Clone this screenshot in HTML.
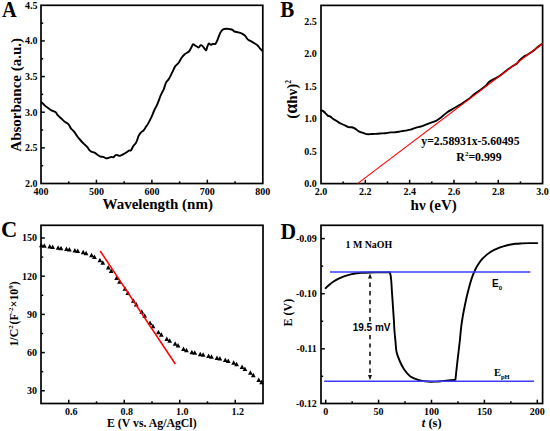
<!DOCTYPE html>
<html><head><meta charset="utf-8"><style>
html,body{margin:0;padding:0;background:#fff;}
body{width:550px;height:431px;overflow:hidden;font-family:"Liberation Serif",serif;}
svg{display:block;}
</style></head><body>
<svg width="550" height="431" viewBox="0 0 550 431">
<rect width="550" height="431" fill="#fff"/>
<rect x="41.00" y="5.30" width="221.80" height="178.20" fill="none" stroke="#000" stroke-width="1.7"/>
<text x="41.00" y="195.20" font-family="'Liberation Serif', serif" font-size="10" font-weight="bold" font-style="normal" text-anchor="middle">400</text>
<line x1="68.72" y1="183.50" x2="68.72" y2="181.30" stroke="#000" stroke-width="1.5"/>
<line x1="96.45" y1="183.50" x2="96.45" y2="179.70" stroke="#000" stroke-width="1.5"/>
<text x="96.45" y="195.20" font-family="'Liberation Serif', serif" font-size="10" font-weight="bold" font-style="normal" text-anchor="middle">500</text>
<line x1="124.17" y1="183.50" x2="124.17" y2="181.30" stroke="#000" stroke-width="1.5"/>
<line x1="151.90" y1="183.50" x2="151.90" y2="179.70" stroke="#000" stroke-width="1.5"/>
<text x="151.90" y="195.20" font-family="'Liberation Serif', serif" font-size="10" font-weight="bold" font-style="normal" text-anchor="middle">600</text>
<line x1="179.62" y1="183.50" x2="179.62" y2="181.30" stroke="#000" stroke-width="1.5"/>
<line x1="207.35" y1="183.50" x2="207.35" y2="179.70" stroke="#000" stroke-width="1.5"/>
<text x="207.35" y="195.20" font-family="'Liberation Serif', serif" font-size="10" font-weight="bold" font-style="normal" text-anchor="middle">700</text>
<line x1="235.07" y1="183.50" x2="235.07" y2="181.30" stroke="#000" stroke-width="1.5"/>
<text x="262.80" y="195.20" font-family="'Liberation Serif', serif" font-size="10" font-weight="bold" font-style="normal" text-anchor="middle">800</text>
<text x="37.60" y="186.90" font-family="'Liberation Serif', serif" font-size="10" font-weight="bold" font-style="normal" text-anchor="end">2.0</text>
<line x1="41.00" y1="165.68" x2="43.20" y2="165.68" stroke="#000" stroke-width="1.5"/>
<line x1="41.00" y1="147.86" x2="44.80" y2="147.86" stroke="#000" stroke-width="1.5"/>
<text x="37.60" y="151.26" font-family="'Liberation Serif', serif" font-size="10" font-weight="bold" font-style="normal" text-anchor="end">2.5</text>
<line x1="41.00" y1="130.04" x2="43.20" y2="130.04" stroke="#000" stroke-width="1.5"/>
<line x1="41.00" y1="112.22" x2="44.80" y2="112.22" stroke="#000" stroke-width="1.5"/>
<text x="37.60" y="115.62" font-family="'Liberation Serif', serif" font-size="10" font-weight="bold" font-style="normal" text-anchor="end">3.0</text>
<line x1="41.00" y1="94.40" x2="43.20" y2="94.40" stroke="#000" stroke-width="1.5"/>
<line x1="41.00" y1="76.58" x2="44.80" y2="76.58" stroke="#000" stroke-width="1.5"/>
<text x="37.60" y="79.98" font-family="'Liberation Serif', serif" font-size="10" font-weight="bold" font-style="normal" text-anchor="end">3.5</text>
<line x1="41.00" y1="58.76" x2="43.20" y2="58.76" stroke="#000" stroke-width="1.5"/>
<line x1="41.00" y1="40.94" x2="44.80" y2="40.94" stroke="#000" stroke-width="1.5"/>
<text x="37.60" y="44.34" font-family="'Liberation Serif', serif" font-size="10" font-weight="bold" font-style="normal" text-anchor="end">4.0</text>
<line x1="41.00" y1="23.12" x2="43.20" y2="23.12" stroke="#000" stroke-width="1.5"/>
<text x="37.60" y="8.70" font-family="'Liberation Serif', serif" font-size="10" font-weight="bold" font-style="normal" text-anchor="end">4.5</text>
<text transform="translate(2.0 17.1) scale(0.97 1.08)" font-family="'Liberation Serif', serif" font-size="21" font-weight="bold">A</text>
<text x="157.70" y="209.20" font-family="'Liberation Serif', serif" font-size="15" font-weight="bold" font-style="normal" text-anchor="middle">Wavelength (nm)</text>
<text x="20.60" y="94.80" font-family="'Liberation Serif', serif" font-size="15" font-weight="bold" font-style="normal" text-anchor="middle" transform="rotate(-90 20.6 94.8)">Absorbance (a.u.)</text>
<path d="M41.60,102.30C42.15,102.85 43.82,104.65 44.90,105.60C45.98,106.55 47.02,107.20 48.10,108.00C49.18,108.80 50.18,109.72 51.40,110.40C52.62,111.08 54.32,111.28 55.40,112.10C56.48,112.92 56.95,114.27 57.90,115.30C58.85,116.33 60.02,117.27 61.10,118.30C62.18,119.33 63.17,120.50 64.40,121.50C65.63,122.50 67.42,123.17 68.50,124.30C69.58,125.43 69.97,127.08 70.90,128.30C71.83,129.52 73.02,130.23 74.10,131.60C75.18,132.97 76.30,135.02 77.40,136.50C78.50,137.98 79.62,139.28 80.70,140.50C81.78,141.72 82.82,142.72 83.90,143.80C84.98,144.88 86.12,145.78 87.20,147.00C88.28,148.22 89.18,150.15 90.40,151.10C91.62,152.05 93.28,152.05 94.50,152.70C95.72,153.35 96.70,154.35 97.70,155.00C98.70,155.65 99.58,156.28 100.50,156.60C101.42,156.92 102.30,156.62 103.20,156.90C104.10,157.18 105.00,158.13 105.90,158.30C106.80,158.47 107.68,158.13 108.60,157.90C109.52,157.67 110.58,157.02 111.40,156.90C112.22,156.78 112.78,157.52 113.50,157.20C114.22,156.88 114.97,155.32 115.70,155.00C116.43,154.68 117.17,155.17 117.90,155.30C118.63,155.43 119.18,155.98 120.10,155.80C121.02,155.62 122.32,154.78 123.40,154.20C124.48,153.62 125.70,152.90 126.60,152.30C127.50,151.70 128.07,150.93 128.80,150.60C129.53,150.27 130.27,151.02 131.00,150.30C131.73,149.58 132.38,147.52 133.20,146.30C134.02,145.08 135.18,144.18 135.90,143.00C136.62,141.82 137.05,140.38 137.50,139.20C137.95,138.02 138.05,137.00 138.60,135.90C139.15,134.80 139.98,133.50 140.80,132.60C141.62,131.70 142.68,131.40 143.50,130.50C144.32,129.60 144.93,128.35 145.70,127.20C146.47,126.05 147.17,125.23 148.10,123.60C149.03,121.97 150.25,119.67 151.30,117.40C152.35,115.13 153.37,112.27 154.40,110.00C155.43,107.73 156.45,106.23 157.50,103.80C158.55,101.37 159.65,97.85 160.70,95.40C161.75,92.95 162.93,91.18 163.80,89.10C164.67,87.02 165.03,84.63 165.90,82.90C166.77,81.17 167.95,80.45 169.00,78.70C170.05,76.95 171.15,74.50 172.20,72.40C173.25,70.30 174.25,67.67 175.30,66.10C176.35,64.53 177.45,64.38 178.50,63.00C179.55,61.62 180.57,59.27 181.60,57.80C182.63,56.33 183.48,55.25 184.70,54.20C185.92,53.15 187.78,52.65 188.90,51.50C190.02,50.35 190.70,48.52 191.40,47.30C192.10,46.08 192.50,44.50 193.10,44.20C193.70,43.90 194.37,45.12 195.00,45.50C195.63,45.88 196.27,46.18 196.90,46.50C197.53,46.82 198.17,47.62 198.80,47.40C199.43,47.18 200.07,45.42 200.70,45.20C201.33,44.98 201.97,45.53 202.60,46.10C203.23,46.67 203.90,47.90 204.50,48.60C205.10,49.30 205.70,50.72 206.20,50.30C206.70,49.88 207.03,47.23 207.50,46.10C207.97,44.97 208.43,43.72 209.00,43.50C209.57,43.28 210.27,44.73 210.90,44.80C211.53,44.87 212.05,44.05 212.80,43.90C213.55,43.75 214.65,44.48 215.40,43.90C216.15,43.32 216.67,41.83 217.30,40.40C217.93,38.97 218.57,36.78 219.20,35.30C219.83,33.82 220.37,32.52 221.10,31.50C221.83,30.48 222.65,29.67 223.60,29.20C224.55,28.73 225.73,28.70 226.80,28.70C227.87,28.70 229.05,29.00 230.00,29.20C230.95,29.40 231.75,29.52 232.50,29.90C233.25,30.28 233.53,31.10 234.50,31.50C235.47,31.90 237.13,31.98 238.30,32.30C239.47,32.62 240.45,32.90 241.50,33.40C242.55,33.90 243.77,34.57 244.60,35.30C245.43,36.03 245.85,37.00 246.50,37.80C247.15,38.60 247.65,39.47 248.50,40.10C249.35,40.73 250.55,41.03 251.60,41.60C252.65,42.17 253.83,42.90 254.80,43.50C255.77,44.10 256.55,44.40 257.40,45.20C258.25,46.00 259.10,47.37 259.90,48.30C260.70,49.23 261.82,50.38 262.20,50.80" fill="none" stroke="#000" stroke-width="1.9" stroke-linejoin="round" stroke-linecap="round"/>
<rect x="321.00" y="5.40" width="221.60" height="178.20" fill="none" stroke="#000" stroke-width="1.7"/>
<text x="321.00" y="195.30" font-family="'Liberation Serif', serif" font-size="10" font-weight="bold" font-style="normal" text-anchor="middle">2.0</text>
<line x1="343.16" y1="183.60" x2="343.16" y2="181.40" stroke="#000" stroke-width="1.5"/>
<line x1="365.32" y1="183.60" x2="365.32" y2="179.80" stroke="#000" stroke-width="1.5"/>
<text x="365.32" y="195.30" font-family="'Liberation Serif', serif" font-size="10" font-weight="bold" font-style="normal" text-anchor="middle">2.2</text>
<line x1="387.48" y1="183.60" x2="387.48" y2="181.40" stroke="#000" stroke-width="1.5"/>
<line x1="409.64" y1="183.60" x2="409.64" y2="179.80" stroke="#000" stroke-width="1.5"/>
<text x="409.64" y="195.30" font-family="'Liberation Serif', serif" font-size="10" font-weight="bold" font-style="normal" text-anchor="middle">2.4</text>
<line x1="431.80" y1="183.60" x2="431.80" y2="181.40" stroke="#000" stroke-width="1.5"/>
<line x1="453.96" y1="183.60" x2="453.96" y2="179.80" stroke="#000" stroke-width="1.5"/>
<text x="453.96" y="195.30" font-family="'Liberation Serif', serif" font-size="10" font-weight="bold" font-style="normal" text-anchor="middle">2.6</text>
<line x1="476.12" y1="183.60" x2="476.12" y2="181.40" stroke="#000" stroke-width="1.5"/>
<line x1="498.28" y1="183.60" x2="498.28" y2="179.80" stroke="#000" stroke-width="1.5"/>
<text x="498.28" y="195.30" font-family="'Liberation Serif', serif" font-size="10" font-weight="bold" font-style="normal" text-anchor="middle">2.8</text>
<line x1="520.44" y1="183.60" x2="520.44" y2="181.40" stroke="#000" stroke-width="1.5"/>
<text x="542.60" y="195.30" font-family="'Liberation Serif', serif" font-size="10" font-weight="bold" font-style="normal" text-anchor="middle">3.0</text>
<text x="316.80" y="187.00" font-family="'Liberation Serif', serif" font-size="10" font-weight="bold" font-style="normal" text-anchor="end">0.0</text>
<text x="316.80" y="154.62" font-family="'Liberation Serif', serif" font-size="10" font-weight="bold" font-style="normal" text-anchor="end">0.5</text>
<text x="316.80" y="122.24" font-family="'Liberation Serif', serif" font-size="10" font-weight="bold" font-style="normal" text-anchor="end">1.0</text>
<text x="316.80" y="89.86" font-family="'Liberation Serif', serif" font-size="10" font-weight="bold" font-style="normal" text-anchor="end">1.5</text>
<text x="316.80" y="57.48" font-family="'Liberation Serif', serif" font-size="10" font-weight="bold" font-style="normal" text-anchor="end">2.0</text>
<text x="316.80" y="25.10" font-family="'Liberation Serif', serif" font-size="10" font-weight="bold" font-style="normal" text-anchor="end">2.5</text>
<text transform="translate(280.3 16.8) scale(1 1.065)" font-family="'Liberation Serif', serif" font-size="21" font-weight="bold">B</text>
<text x="433.70" y="209.50" font-family="'Liberation Serif', serif" font-size="15" font-weight="bold" font-style="normal" text-anchor="middle">hν (eV)</text>
<text transform="translate(297.2 99.4) rotate(-90)" font-family="'Liberation Serif', serif" font-size="15" font-weight="bold" text-anchor="middle">(<tspan font-size="18">α</tspan>hν)<tspan font-size="7.5" dy="-6.5">2</tspan></text>
<path d="M321.10,110.40C321.40,110.48 322.23,110.48 322.90,110.90C323.57,111.32 324.28,112.12 325.10,112.90C325.92,113.68 326.90,114.98 327.80,115.60C328.70,116.22 329.58,116.02 330.50,116.60C331.42,117.18 332.30,118.38 333.30,119.10C334.30,119.82 335.50,120.27 336.50,120.90C337.50,121.53 338.38,122.38 339.30,122.90C340.22,123.42 341.00,123.55 342.00,124.00C343.00,124.45 344.22,125.08 345.30,125.60C346.38,126.12 347.42,126.82 348.50,127.10C349.58,127.38 350.70,127.05 351.80,127.30C352.90,127.55 354.00,127.97 355.10,128.60C356.20,129.23 357.32,130.47 358.40,131.10C359.48,131.73 360.52,131.98 361.60,132.40C362.68,132.82 363.80,133.30 364.90,133.60C366.00,133.90 367.10,134.13 368.20,134.20C369.30,134.27 370.42,134.05 371.50,134.00C372.58,133.95 373.27,133.98 374.70,133.90C376.13,133.82 378.35,133.62 380.10,133.50C381.85,133.38 383.50,133.38 385.20,133.20C386.90,133.02 388.60,132.55 390.30,132.40C392.00,132.25 393.70,132.47 395.40,132.30C397.10,132.13 398.82,131.68 400.50,131.40C402.18,131.12 403.82,130.88 405.50,130.60C407.18,130.32 408.90,130.17 410.60,129.70C412.30,129.23 414.00,128.33 415.70,127.80C417.40,127.27 419.10,127.03 420.80,126.50C422.50,125.97 424.20,125.23 425.90,124.60C427.60,123.97 429.30,123.33 431.00,122.70C432.70,122.07 434.60,121.55 436.10,120.80C437.60,120.05 438.18,119.60 440.00,118.20C441.82,116.80 444.68,114.05 447.00,112.40C449.32,110.75 451.58,109.67 453.90,108.30C456.22,106.93 458.57,105.65 460.90,104.20C463.23,102.75 465.58,101.33 467.90,99.60C470.22,97.87 472.68,95.45 474.80,93.80C476.92,92.15 478.67,91.15 480.60,89.70C482.53,88.25 485.05,86.35 486.40,85.10C487.75,83.85 487.53,83.17 488.70,82.20C489.87,81.23 492.35,79.90 493.40,79.30C494.45,78.70 493.77,79.32 495.00,78.60C496.23,77.88 498.87,76.37 500.80,75.00C502.73,73.63 504.67,71.85 506.60,70.40C508.53,68.95 510.67,67.47 512.40,66.30C514.13,65.13 515.83,64.37 517.00,63.40C518.17,62.43 518.23,61.65 519.40,60.50C520.57,59.35 522.65,57.47 524.00,56.50C525.35,55.53 526.33,55.38 527.50,54.70C528.67,54.02 529.85,53.17 531.00,52.40C532.15,51.63 533.43,50.87 534.40,50.10C535.37,49.33 535.53,48.83 536.80,47.80C538.07,46.77 541.13,44.55 542.00,43.90" fill="none" stroke="#000" stroke-width="1.9" stroke-linejoin="round" stroke-linecap="round"/>
<line x1="357.49" y1="183.60" x2="542.60" y2="43.53" stroke="#f00" stroke-width="1.1"/>
<text x="470.40" y="145.40" font-family="'Liberation Serif', serif" font-size="11.7" font-weight="bold" font-style="normal" text-anchor="middle">y=2.58931x-5.60495</text>
<text x="479" y="161.2" font-family="'Liberation Serif', serif" font-size="11.8" font-weight="bold" text-anchor="middle">R<tspan font-size="7" dy="-5">2</tspan><tspan dy="5">=0.999</tspan></text>
<rect x="41.00" y="225.30" width="222.00" height="178.20" fill="none" stroke="#000" stroke-width="1.7"/>
<line x1="68.75" y1="403.50" x2="68.75" y2="399.70" stroke="#000" stroke-width="1.5"/>
<text x="71.15" y="415.30" font-family="'Liberation Serif', serif" font-size="10" font-weight="bold" font-style="normal" text-anchor="middle">0.6</text>
<line x1="96.50" y1="403.50" x2="96.50" y2="401.30" stroke="#000" stroke-width="1.5"/>
<line x1="124.25" y1="403.50" x2="124.25" y2="399.70" stroke="#000" stroke-width="1.5"/>
<text x="126.65" y="415.30" font-family="'Liberation Serif', serif" font-size="10" font-weight="bold" font-style="normal" text-anchor="middle">0.8</text>
<line x1="152.00" y1="403.50" x2="152.00" y2="401.30" stroke="#000" stroke-width="1.5"/>
<line x1="179.75" y1="403.50" x2="179.75" y2="399.70" stroke="#000" stroke-width="1.5"/>
<text x="182.15" y="415.30" font-family="'Liberation Serif', serif" font-size="10" font-weight="bold" font-style="normal" text-anchor="middle">1.0</text>
<line x1="207.50" y1="403.50" x2="207.50" y2="401.30" stroke="#000" stroke-width="1.5"/>
<line x1="235.25" y1="403.50" x2="235.25" y2="399.70" stroke="#000" stroke-width="1.5"/>
<text x="237.65" y="415.30" font-family="'Liberation Serif', serif" font-size="10" font-weight="bold" font-style="normal" text-anchor="middle">1.2</text>
<line x1="41.00" y1="390.77" x2="44.80" y2="390.77" stroke="#000" stroke-width="1.5"/>
<text x="37.00" y="394.17" font-family="'Liberation Serif', serif" font-size="10" font-weight="bold" font-style="normal" text-anchor="end">30</text>
<line x1="41.00" y1="371.68" x2="43.20" y2="371.68" stroke="#000" stroke-width="1.5"/>
<line x1="41.00" y1="352.58" x2="44.80" y2="352.58" stroke="#000" stroke-width="1.5"/>
<text x="37.00" y="355.98" font-family="'Liberation Serif', serif" font-size="10" font-weight="bold" font-style="normal" text-anchor="end">60</text>
<line x1="41.00" y1="333.49" x2="43.20" y2="333.49" stroke="#000" stroke-width="1.5"/>
<line x1="41.00" y1="314.39" x2="44.80" y2="314.39" stroke="#000" stroke-width="1.5"/>
<text x="37.00" y="317.79" font-family="'Liberation Serif', serif" font-size="10" font-weight="bold" font-style="normal" text-anchor="end">90</text>
<line x1="41.00" y1="295.30" x2="43.20" y2="295.30" stroke="#000" stroke-width="1.5"/>
<line x1="41.00" y1="276.20" x2="44.80" y2="276.20" stroke="#000" stroke-width="1.5"/>
<text x="37.00" y="279.60" font-family="'Liberation Serif', serif" font-size="10" font-weight="bold" font-style="normal" text-anchor="end">120</text>
<line x1="41.00" y1="257.11" x2="43.20" y2="257.11" stroke="#000" stroke-width="1.5"/>
<line x1="41.00" y1="238.01" x2="44.80" y2="238.01" stroke="#000" stroke-width="1.5"/>
<text x="37.00" y="241.41" font-family="'Liberation Serif', serif" font-size="10" font-weight="bold" font-style="normal" text-anchor="end">150</text>
<text transform="translate(0.9 236.6) scale(1 1.06)" font-family="'Liberation Serif', serif" font-size="22.5" font-weight="bold">C</text>
<text x="151.80" y="426.50" font-family="'Liberation Serif', serif" font-size="11.8" font-weight="bold" font-style="normal" text-anchor="middle">E (V vs. Ag/AgCl)</text>
<text transform="translate(17.5 313.9) rotate(-90)" font-family="'Liberation Serif', serif" font-size="11.9" font-weight="bold" text-anchor="middle">1/C<tspan font-size="7" dy="-4.7">2</tspan><tspan dy="4.7" dx="0.8">(F</tspan><tspan font-size="7" dy="-4.7">-2</tspan><tspan dy="4.7">×10</tspan><tspan font-size="7" dy="-4.7">9</tspan><tspan dy="4.7">)</tspan></text>
<path d="M41.40,242.86L43.80,247.36L39.00,247.36ZM44.30,243.25L46.70,247.75L41.90,247.75ZM49.76,244.02L52.16,248.52L47.36,248.52ZM52.66,244.49L55.06,248.99L50.26,248.99ZM58.12,245.34L60.52,249.84L55.72,249.84ZM61.02,245.69L63.42,250.19L58.62,250.19ZM66.48,246.39L68.88,250.89L64.08,250.89ZM69.38,246.93L71.78,251.43L66.98,251.43ZM74.84,247.96L77.24,252.46L72.44,252.46ZM77.74,248.50L80.14,253.00L75.34,253.00ZM83.20,249.70L85.60,254.20L80.80,254.20ZM86.10,250.67L88.50,255.17L83.70,255.17ZM91.56,252.64L93.96,257.14L89.16,257.14ZM94.46,254.38L96.86,258.88L92.06,258.88ZM99.92,257.84L102.32,262.34L97.52,262.34ZM102.82,260.16L105.22,264.66L100.42,264.66ZM108.28,265.07L110.68,269.57L105.88,269.57ZM111.18,268.62L113.58,273.12L108.78,273.12ZM116.64,275.41L119.04,279.91L114.24,279.91ZM119.54,279.15L121.94,283.65L117.14,283.65ZM125.00,286.32L127.40,290.82L122.60,290.82ZM127.90,290.45L130.30,294.95L125.50,294.95ZM133.36,298.18L135.76,302.68L130.96,302.68ZM136.26,302.06L138.66,306.56L133.86,306.56ZM141.72,309.36L144.12,313.86L139.32,313.86ZM144.62,313.19L147.02,317.69L142.22,317.69ZM150.08,320.39L152.48,324.89L147.68,324.89ZM152.98,323.84L155.38,328.34L150.58,328.34ZM158.44,329.82L160.84,334.32L156.04,334.32ZM161.34,332.20L163.74,336.70L158.94,336.70ZM166.80,336.54L169.20,341.04L164.40,341.04ZM169.70,338.29L172.10,342.79L167.30,342.79ZM175.16,341.25L177.56,345.75L172.76,345.75ZM178.06,343.01L180.46,347.51L175.66,347.51ZM183.52,346.49L185.92,350.99L181.12,350.99ZM186.42,347.68L188.82,352.18L184.02,352.18ZM191.88,349.66L194.28,354.16L189.48,354.16ZM194.78,350.36L197.18,354.86L192.38,354.86ZM200.24,351.65L202.64,356.15L197.84,356.15ZM203.14,352.29L205.54,356.79L200.74,356.79ZM208.60,353.50L211.00,358.00L206.20,358.00ZM211.50,354.16L213.90,358.66L209.10,358.66ZM216.96,355.39L219.36,359.89L214.56,359.89ZM219.86,356.12L222.26,360.62L217.46,360.62ZM225.32,357.50L227.72,362.00L222.92,362.00ZM228.22,358.45L230.62,362.95L225.82,362.95ZM233.68,360.34L236.08,364.84L231.28,364.84ZM236.58,361.79L238.98,366.29L234.18,366.29ZM242.04,364.53L244.44,369.03L239.64,369.03ZM244.94,366.52L247.34,371.02L242.54,371.02ZM250.40,370.34L252.80,374.84L248.00,374.84ZM253.30,372.81L255.70,377.31L250.90,377.31ZM258.76,377.40L261.16,381.90L256.36,381.90ZM261.66,379.67L264.06,384.17L259.26,384.17Z" fill="#000"/>
<line x1="100.20" y1="251.00" x2="175.30" y2="364.00" stroke="#f00" stroke-width="1.5"/>
<rect x="321.00" y="225.30" width="221.60" height="178.20" fill="none" stroke="#000" stroke-width="1.7"/>
<line x1="325.70" y1="403.50" x2="325.70" y2="399.70" stroke="#000" stroke-width="1.5"/>
<text x="325.70" y="414.90" font-family="'Liberation Serif', serif" font-size="10" font-weight="bold" font-style="normal" text-anchor="middle">0</text>
<line x1="352.15" y1="403.50" x2="352.15" y2="401.30" stroke="#000" stroke-width="1.5"/>
<line x1="378.60" y1="403.50" x2="378.60" y2="399.70" stroke="#000" stroke-width="1.5"/>
<text x="378.60" y="414.90" font-family="'Liberation Serif', serif" font-size="10" font-weight="bold" font-style="normal" text-anchor="middle">50</text>
<line x1="405.05" y1="403.50" x2="405.05" y2="401.30" stroke="#000" stroke-width="1.5"/>
<line x1="431.50" y1="403.50" x2="431.50" y2="399.70" stroke="#000" stroke-width="1.5"/>
<text x="431.50" y="414.90" font-family="'Liberation Serif', serif" font-size="10" font-weight="bold" font-style="normal" text-anchor="middle">100</text>
<line x1="457.95" y1="403.50" x2="457.95" y2="401.30" stroke="#000" stroke-width="1.5"/>
<line x1="484.40" y1="403.50" x2="484.40" y2="399.70" stroke="#000" stroke-width="1.5"/>
<text x="484.40" y="414.90" font-family="'Liberation Serif', serif" font-size="10" font-weight="bold" font-style="normal" text-anchor="middle">150</text>
<line x1="510.85" y1="403.50" x2="510.85" y2="401.30" stroke="#000" stroke-width="1.5"/>
<line x1="537.30" y1="403.50" x2="537.30" y2="399.70" stroke="#000" stroke-width="1.5"/>
<text x="537.30" y="414.90" font-family="'Liberation Serif', serif" font-size="10" font-weight="bold" font-style="normal" text-anchor="middle">200</text>
<text x="316.80" y="407.30" font-family="'Liberation Serif', serif" font-size="10" font-weight="bold" font-style="normal" text-anchor="end">-0.12</text>
<line x1="321.00" y1="376.35" x2="323.20" y2="376.35" stroke="#000" stroke-width="1.5"/>
<line x1="321.00" y1="348.80" x2="324.80" y2="348.80" stroke="#000" stroke-width="1.5"/>
<text x="316.80" y="352.20" font-family="'Liberation Serif', serif" font-size="10" font-weight="bold" font-style="normal" text-anchor="end">-0.11</text>
<line x1="321.00" y1="321.25" x2="323.20" y2="321.25" stroke="#000" stroke-width="1.5"/>
<line x1="321.00" y1="293.70" x2="324.80" y2="293.70" stroke="#000" stroke-width="1.5"/>
<text x="316.80" y="297.10" font-family="'Liberation Serif', serif" font-size="10" font-weight="bold" font-style="normal" text-anchor="end">-0.10</text>
<line x1="321.00" y1="266.15" x2="323.20" y2="266.15" stroke="#000" stroke-width="1.5"/>
<line x1="321.00" y1="238.60" x2="324.80" y2="238.60" stroke="#000" stroke-width="1.5"/>
<text x="316.80" y="242.00" font-family="'Liberation Serif', serif" font-size="10" font-weight="bold" font-style="normal" text-anchor="end">-0.09</text>
<text transform="translate(280.6 239.0) scale(1 1.07)" font-family="'Liberation Serif', serif" font-size="21.6" font-weight="bold">D</text>
<text x="431.7" y="427.4" font-family="'Liberation Serif', serif" font-size="12.5" font-weight="bold" text-anchor="middle"><tspan font-style="italic">t</tspan> (s)</text>
<text x="292.40" y="312.70" font-family="'Liberation Serif', serif" font-size="12" font-weight="bold" font-style="normal" text-anchor="middle" transform="rotate(-90 292.4 312.7)">E (V)</text>
<path d="M325.60,288.20C326.18,287.65 327.77,286.02 329.10,284.90C330.43,283.78 332.08,282.52 333.60,281.50C335.12,280.48 336.68,279.58 338.20,278.80C339.72,278.02 341.18,277.38 342.70,276.80C344.22,276.22 345.78,275.75 347.30,275.30C348.82,274.85 350.28,274.43 351.80,274.10C353.32,273.77 354.88,273.52 356.40,273.30C357.92,273.08 358.63,272.93 360.90,272.80C363.17,272.67 366.82,272.57 370.00,272.50C373.18,272.43 376.70,272.43 380.00,272.40C383.30,272.37 388.17,272.32 389.80,272.30C389.95,272.90 390.43,274.13 390.70,275.90C390.97,277.67 391.18,280.08 391.40,282.90C391.62,285.72 391.58,286.52 392.00,292.80C392.42,299.08 393.50,314.40 393.90,320.60C394.30,326.80 394.13,326.50 394.40,330.00C394.67,333.50 395.15,337.97 395.50,341.60C395.85,345.23 395.83,348.65 396.50,351.80C397.17,354.95 398.25,357.60 399.50,360.50C400.75,363.40 402.18,366.53 404.00,369.20C405.82,371.87 407.88,374.67 410.40,376.50C412.92,378.33 416.67,379.40 419.10,380.20C421.53,381.00 423.07,381.03 425.00,381.30C426.93,381.57 428.87,381.75 430.70,381.80C432.53,381.85 434.30,381.70 436.00,381.60C437.70,381.50 438.87,381.40 440.90,381.20C442.93,381.00 445.78,380.62 448.20,380.40C450.62,380.18 454.20,379.98 455.40,379.90C455.72,377.00 456.70,367.82 457.30,362.50C457.90,357.18 458.57,351.75 459.00,348.00C459.43,344.25 459.53,343.52 459.90,340.00C460.27,336.48 460.70,330.98 461.20,326.90C461.70,322.82 462.30,319.03 462.90,315.50C463.50,311.97 464.13,308.95 464.80,305.70C465.47,302.45 466.13,299.25 466.90,296.00C467.67,292.75 468.58,289.18 469.40,286.20C470.22,283.22 470.85,280.80 471.80,278.10C472.75,275.40 474.10,272.17 475.10,270.00C476.10,267.83 476.72,266.82 477.80,265.10C478.88,263.38 480.18,261.37 481.60,259.70C483.02,258.03 484.75,256.43 486.30,255.10C487.85,253.77 489.10,252.78 490.90,251.70C492.70,250.62 495.03,249.50 497.10,248.60C499.17,247.70 501.23,246.95 503.30,246.30C505.37,245.65 507.45,245.12 509.50,244.70C511.55,244.28 513.55,244.02 515.60,243.80C517.65,243.58 519.48,243.52 521.80,243.40C524.12,243.28 526.92,243.15 529.50,243.10C532.08,243.05 536.00,243.10 537.30,243.10" fill="none" stroke="#000" stroke-width="1.9" stroke-linejoin="round" stroke-linecap="round"/>
<line x1="330.00" y1="271.90" x2="530.40" y2="271.90" stroke="#3c3cff" stroke-width="1.5"/>
<line x1="324.10" y1="381.20" x2="534.10" y2="381.20" stroke="#3c3cff" stroke-width="1.5"/>
<line x1="370.00" y1="282.50" x2="370.00" y2="321.50" stroke="#383838" stroke-width="1.9" stroke-dasharray="4.5,4.1"/>
<line x1="370.00" y1="335.00" x2="370.00" y2="373.20" stroke="#383838" stroke-width="1.9" stroke-dasharray="4.2,4.2"/>
<path d="M370,273.6 L372,278.6 L368,278.6 Z" fill="#111"/>
<path d="M370,380 L372,375 L368,375 Z" fill="#111"/>
<text x="368.80" y="247.60" font-family="'Liberation Serif', serif" font-size="9.9" font-weight="bold" font-style="normal" text-anchor="middle">1 M NaOH</text>
<rect x="352" y="321.8" width="39.5" height="12" fill="#fff"/>
<text x="371.60" y="330.60" font-family="'Liberation Sans', sans-serif" font-size="10" font-weight="bold" font-style="normal" text-anchor="middle">19.5 mV</text>
<text x="492" y="286.8" font-family="'Liberation Sans', sans-serif" font-size="10" font-weight="bold">E<tspan font-size="6" dy="3.2">0</tspan></text>
<text x="493.9" y="376" font-family="'Liberation Serif', serif" font-size="10.5" font-weight="bold">E<tspan font-size="6.5" dy="3">pH</tspan></text>
</svg>
</body></html>
